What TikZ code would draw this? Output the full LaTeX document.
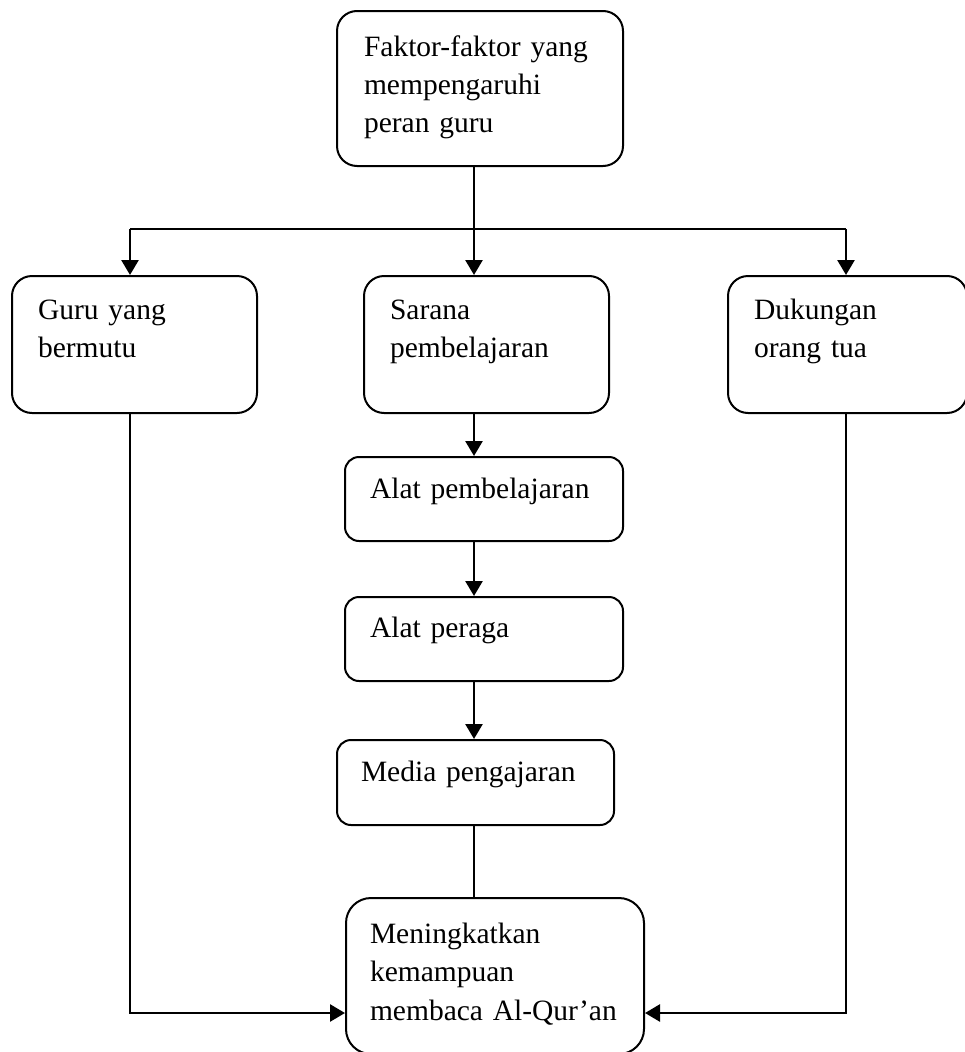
\documentclass[tikz,border=0pt]{standalone}
\usepackage{fontspec}
\setmainfont{Liberation Serif}
\usepackage{tikz}
\usetikzlibrary{arrows.meta,calc,positioning}

\begin{document}
\begin{tikzpicture}[x=1pt, y=-1pt, >={Triangle[length=15pt,width=17pt]}]
  \tikzset{
    pbox/.style={draw, line width=2pt, rounded corners=20pt, anchor=north west,
                 align=left, inner ysep=0pt, font=\fontsize{29.5}{38.5}\selectfont},
    flow/.style={->, line width=2.6pt},
    link/.style={line width=2pt}
  }
  \path[use as bounding box, fill=white] (0,0) rectangle (964,1052);
  % boxes
  \node[pbox, text width=232pt, inner xsep=27pt, text height=45pt, text depth=110pt]
    (faktor) at (336,10) {Faktor-faktor yang\\mempengaruhi\\peran guru};
  \node[pbox, text width=193pt, inner xsep=26pt, text height=43pt, text depth=94pt]
    (guru) at (11,275) {Guru yang\\bermutu};
  \node[pbox, text width=193pt, inner xsep=26pt, text height=43pt, text depth=94pt]
    (sarana) at (363,275) {Sarana\\pembelajaran};
  \node[pbox, text width=187pt, inner xsep=26pt, text height=43pt, text depth=94pt]
    (dukungan) at (727,275) {Dukungan\\orang tua};
  \node[pbox, rounded corners=14pt, text width=228pt, inner xsep=25pt, text height=41pt, text depth=43pt]
    (alat) at (344,456) {Alat pembelajaran};
  \node[pbox, rounded corners=14pt, text width=228pt, inner xsep=25pt, text height=40pt, text depth=44pt]
    (peraga) at (344,596) {Alat peraga};
  \node[pbox, rounded corners=14pt, text width=229pt, inner xsep=24pt, text height=41pt, text depth=44pt]
    (media) at (336,739) {Media pengajaran};
  \node[pbox, rounded corners=25pt, text width=250pt, inner xsep=24pt, text height=45pt, text depth=111pt]
    (quran) at (345,897) {Meningkatkan\\kemampuan\\membaca Al-Qur’an};
  % junction points
  \coordinate (split) at (474,229);
  \coordinate (split-l) at (130,229);
  \coordinate (split-r) at (846,229);
  \coordinate (spine) at (474,0);
  \coordinate (join-l) at (130,1013);
  \coordinate (join-r) at (846,1013);
  % connectors
  \draw[link, line width=1.5pt] ($(faktor.south)+(-6,0)$) -- (split);
  \draw[link] (split-l) -- (split-r);
  \draw[flow] (split-l) -- (split-l |- guru.north);
  \draw[flow] (split) -- (split |- sarana.north);
  \draw[flow] (split-r) -- (split-r |- dukungan.north);
  \draw[flow] (spine |- sarana.south) -- (spine |- alat.north);
  \draw[flow] (spine |- alat.south) -- (spine |- peraga.north);
  \draw[flow] (spine |- peraga.south) -- (spine |- media.north);
  \draw[link, line width=1.5pt] (spine |- media.south) -- (spine |- quran.north);
  \draw[flow] (split-l |- guru.south) -- (join-l) -- (join-l -| quran.west);
  \draw[flow] (split-r |- dukungan.south) -- (join-r) -- (join-r -| quran.east);
\end{tikzpicture}
\end{document}
